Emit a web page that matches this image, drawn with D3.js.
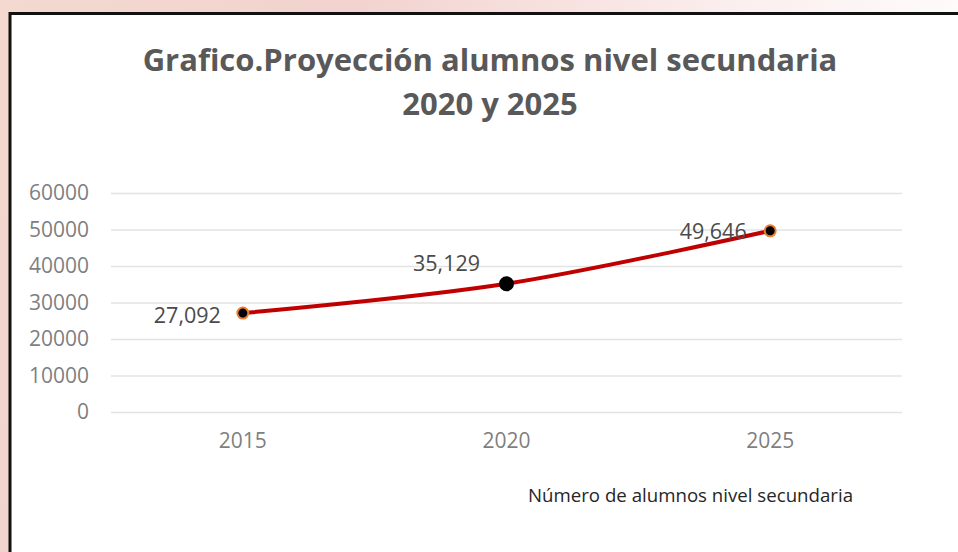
<!DOCTYPE html>
<html>
<head>
<meta charset="utf-8">
<script src="https://cdn.jsdelivr.net/npm/d3@7"></script>
<style>
  html, body { margin: 0; overflow: hidden; background: #fff; }
  svg { display: block; }
</style>
</head>
<body>
<div id="chart"></div>
<script>
'use strict';

var years = ['2015', '2020', '2025'];
var alumnos = [27092, 35129, 49646];
var yTicks = [0, 10000, 20000, 30000, 40000, 50000, 60000];
var titleLines = ['Grafico.Proyección alumnos nivel secundaria', '2020 y 2025'];
var legendLabel = 'Número de alumnos nivel secundaria';

var W = 958, H = 552;
var plot = { left: 111, right: 902, top: 193, bottom: 412 };

var svg = d3.select('#chart')
    .append('svg')
    .attr('width', W)
    .attr('height', H);

// background behind the chart frame
var grad = svg.append('defs').append('linearGradient')
    .attr('id', 'bg')
    .attr('x1', 0).attr('y1', 0).attr('x2', 1).attr('y2', 0.3);
grad.append('stop').attr('offset', '0%').attr('stop-color', '#f3d9cf');
grad.append('stop').attr('offset', '35%').attr('stop-color', '#f2d3cf');
grad.append('stop').attr('offset', '70%').attr('stop-color', '#fbeeee');
grad.append('stop').attr('offset', '100%').attr('stop-color', '#ffffff');

svg.append('rect')
    .attr('width', W).attr('height', H)
    .attr('fill', 'url(#bg)');

// chart frame: only left and top edges are visible
svg.append('rect')
    .attr('x', 10).attr('y', 13.5)
    .attr('width', W).attr('height', H)
    .attr('fill', '#ffffff');
svg.append('path')
    .attr('d', 'M10,' + H + 'V13.5H' + W)
    .attr('fill', 'none')
    .attr('stroke', '#111')
    .attr('stroke-width', 3);

var x = d3.scaleBand()
    .domain(years)
    .range([plot.left, plot.right]);

var y = d3.scaleLinear()
    .domain([0, 60000])
    .range([plot.bottom, plot.top]);

// title
svg.append('g')
    .selectAll('text')
    .data(titleLines)
    .enter()
    .append('text')
    .attr('x', 490)
    .attr('y', function(d, i) { return 71 + i * 44; })
    .attr('text-anchor', 'middle')
    .attr('font-family', 'Open Sans')
    .attr('font-weight', 'bold')
    .attr('font-size', 31)
    .attr('fill', '#595959')
    .text(function(d) { return d; });

// gridlines + y axis labels
var yAxis = svg.append('g')
    .attr('transform', 'translate(' + plot.left + ',0)')
    .call(d3.axisLeft(y)
        .tickValues(yTicks)
        .tickSize(-(plot.right - plot.left))
        .tickPadding(22)
        .tickFormat(d3.format('d')));
yAxis.select('.domain').remove();
yAxis.selectAll('.tick line')
    .attr('stroke', '#e3e3e3')
    .attr('stroke-width', 1.3);
yAxis.selectAll('.tick text')
    .attr('font-family', 'Open Sans')
    .attr('font-size', 21)
    .attr('fill', '#7f7f7f');

// x axis labels
var xAxis = svg.append('g')
    .attr('transform', 'translate(0,' + plot.bottom + ')')
    .call(d3.axisBottom(x).tickSize(0).tickPadding(21));
xAxis.select('.domain').remove();
xAxis.selectAll('.tick text')
    .attr('font-family', 'Open Sans')
    .attr('font-size', 21)
    .attr('fill', '#7f7f7f');

var pts = years.map(function(yr, i) {
    return { year: yr, value: alumnos[i] };
});

var line = d3.line()
    .x(function(d) { return x(d.year) + x.bandwidth() / 2; })
    .y(function(d) { return y(d.value); })
    .curve(d3.curveCatmullRom.alpha(0.5));

svg.append('path')
    .datum(pts)
    .attr('d', line)
    .attr('fill', 'none')
    .attr('stroke', '#c00000')
    .attr('stroke-width', 4);

svg.append('g')
    .selectAll('circle')
    .data(pts)
    .enter()
    .append('circle')
    .attr('cx', function(d) { return x(d.year) + x.bandwidth() / 2; })
    .attr('cy', function(d) { return y(d.value); })
    .attr('r', function(d, i) { return i === 1 ? 6.5 : 5.5; })
    .attr('fill', '#000')
    .attr('stroke', function(d, i) { return i === 1 ? '#000' : '#ed7d31'; })
    .attr('stroke-width', 2);

// data labels
var labelOffset = [[-22, 10, 'end'], [-60, -13, 'middle'], [-57, 8, 'middle']];
var fmt = d3.format(',');
svg.append('g')
    .selectAll('text')
    .data(pts)
    .enter()
    .append('text')
    .attr('x', function(d, i) { return x(d.year) + x.bandwidth() / 2 + labelOffset[i][0]; })
    .attr('y', function(d, i) { return y(d.value) + labelOffset[i][1]; })
    .attr('text-anchor', function(d, i) { return labelOffset[i][2]; })
    .attr('font-family', 'Open Sans')
    .attr('font-size', 21.5)
    .attr('fill', '#4a4a4a')
    .text(function(d) { return fmt(d.value); });

// legend
svg.append('text')
    .attr('x', 528)
    .attr('y', 502)
    .attr('font-family', 'Open Sans')
    .attr('font-size', 19)
    .attr('fill', '#262626')
    .attr('textLength', 325)
    .attr('lengthAdjust', 'spacingAndGlyphs')
    .text(legendLabel);
</script>
</body>
</html>
